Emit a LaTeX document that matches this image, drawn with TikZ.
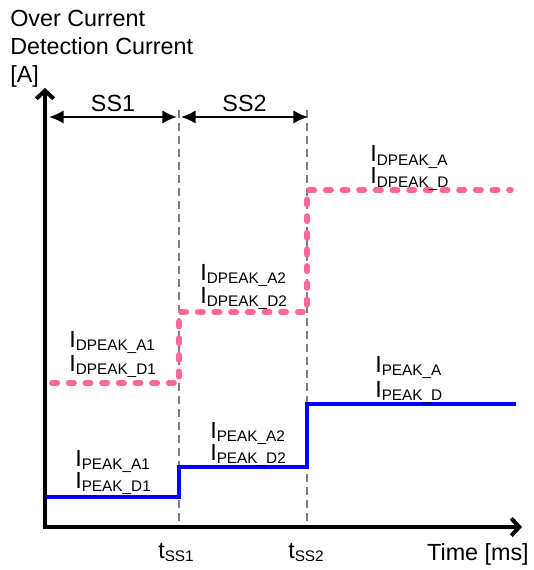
\documentclass[tikz,border=0pt]{standalone}
\usepackage{fontspec}
\setmainfont{Liberation Sans}
\usepackage{xcolor}
\definecolor{peak-blue}{HTML}{0000FF}
\definecolor{dpeak-pink}{HTML}{FF6699}
\definecolor{guide-gray}{HTML}{808080}
\usepackage{tikz}
\usetikzlibrary{arrows.meta}
\newcommand{\cur}[1]{I\raisebox{-2.5pt}{\fontsize{11.5}{13}\selectfont #1}}
\newcommand{\tss}[1]{t\raisebox{-2.5pt}{\fontsize{11.5}{13}\selectfont SS#1}}
\tikzset{lbl/.style = {anchor=base west, inner sep=0pt}}
\tikzset{axis/.style = {line width=3pt, >={Straight Barb[length=6pt, width=13pt]}}}
\tikzset{span/.style = {line width=1.5pt, >={Latex[length=11pt, width=10pt]}}}
\tikzset{guide/.style = {draw=guide-gray, line width=1.6pt, dash pattern=on 6pt off 3.75pt}}
\tikzset{dpeak/.style = {draw=dpeak-pink, line width=4.2pt, line cap=round, dash pattern=on 4pt off 8.5pt}}
\tikzset{peak/.style = {draw=peak-blue, line width=2.5pt}}

\begin{document}
\begin{tikzpicture}[x=0.75pt, y=-0.75pt,
  font=\fontsize{17.5}{21}\selectfont
]
\useasboundingbox (0,0) rectangle (533,570);

% axes
\coordinate (o) at (45,527);
\coordinate (ytip) at (45,88);
\coordinate (xtip) at (522,527);
\coordinate (t1) at (179,527);
\coordinate (t2) at (307,527);
\coordinate (t1top) at (179,110);
\coordinate (t2top) at (307,110);

\draw[guide] (t1top) -- (t1);
\draw[guide] (t2top) -- (t2);
\draw[axis, <->] (ytip) -- (o) -- (xtip);

\node[lbl] (y0) at (10,27) {Over Current};
\node[lbl] (y1) at (10,55) {Detection Current};
\node[lbl] (y2) at (10,83) {[A]};
\node[lbl] (x0) at (158,558) {\tss{1}};
\node[lbl] (x1) at (288,558) {\tss{2}};
\node[lbl, anchor=base east] (x2) at (529,560) {Time [ms]};

% soft start spans
\coordinate (s0) at (49,117);
\coordinate (s1) at (177,117);
\coordinate (s2) at (181,117);
\coordinate (s3) at (308,117);
\draw[span, <->] (s0) -- (s1) node[midway, above, text=black]{SS1};
\draw[span, <->] (s2) -- (s3) node[midway, above, text=black]{SS2};

% detection levels
\coordinate (d0) at (52,383);
\coordinate (d1) at (179,383);
\coordinate (d2) at (179,312);
\coordinate (d3) at (307,312);
\coordinate (d4) at (307,190);
\coordinate (d5) at (511,190);
\draw[dpeak] (d0) -- (d1) -- (d2) -- (d3) -- (d4) -- (d5);

\coordinate (p0) at (46,497);
\coordinate (p1) at (179,497);
\coordinate (p2) at (179,467);
\coordinate (p3) at (307,467);
\coordinate (p4) at (307,404);
\coordinate (p5) at (516,404);
\draw[peak] (p0) -- (p1) -- (p2) -- (p3) -- (p4) -- (p5);

\node[lbl] (b0) at (69,347) {\cur{DPEAK\_A1}};
\node[lbl] (b1) at (69,371) {\cur{DPEAK\_D1}};
\node[lbl] (b2) at (200,280) {\cur{DPEAK\_A2}};
\node[lbl] (b3) at (200,303) {\cur{DPEAK\_D2}};
\node[lbl] (b4) at (370,162) {\cur{DPEAK\_A}};
\node[lbl] (b5) at (370,184) {\cur{DPEAK\_D}};
\node[lbl] (b6) at (75,466) {\cur{PEAK\_A1}};
\node[lbl] (b7) at (75,488) {\cur{PEAK\_D1}};
\node[lbl] (b8) at (210,438) {\cur{PEAK\_A2}};
\node[lbl] (b9) at (210,460) {\cur{PEAK\_D2}};
\node[lbl] (b10) at (375,372) {\cur{PEAK\_A}};
\node[lbl] (b11) at (375,397) {\cur{PEAK\_D}};

\end{tikzpicture}
\end{document}
